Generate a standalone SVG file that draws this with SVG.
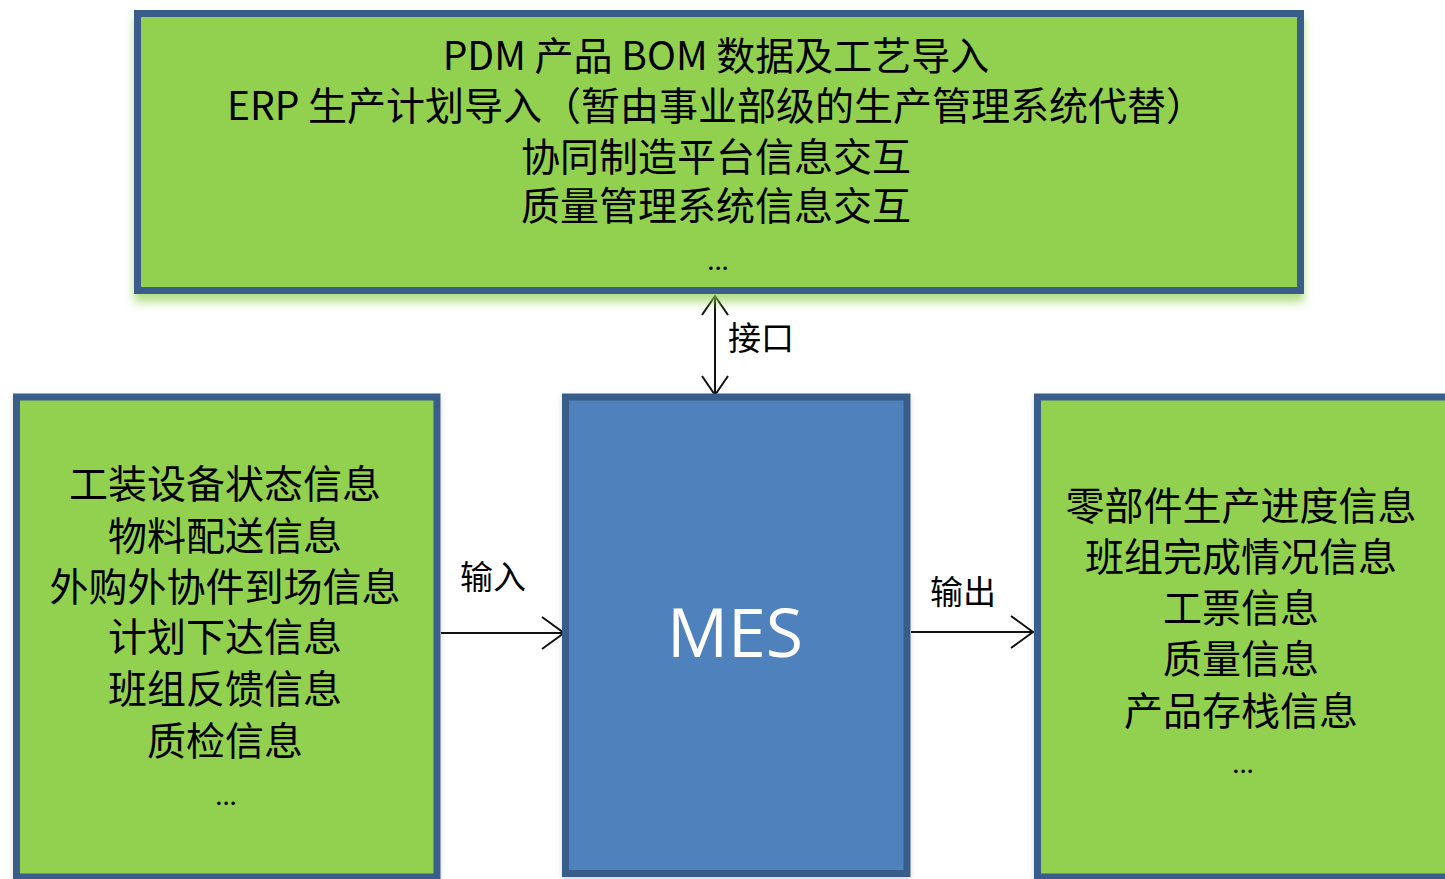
<svg xmlns="http://www.w3.org/2000/svg" width="1445" height="879" viewBox="0 0 1445 879">
<defs>
<style>
.box{fill:#92D050;stroke:#3A5D8C;stroke-width:7}
.mes{fill:#4F81BD;stroke:#385D8A;stroke-width:7}
.t{font-family:"Noto Sans CJK SC","Noto Sans",sans-serif;font-size:39px;fill:#000;text-anchor:middle}
.lbl{font-family:"Noto Sans CJK SC","Noto Sans",sans-serif;font-size:33px;fill:#000}
.mest{font-family:"Open Sans","Noto Sans",sans-serif;font-size:68px;fill:#fff;text-anchor:middle}
.conn{stroke:#111;stroke-width:2;fill:none}
</style>
<filter id="sh" x="-5%" y="-10%" width="110%" height="130%">
<feGaussianBlur in="SourceAlpha" stdDeviation="5"/>
<feOffset dx="0" dy="8" result="b"/>
<feFlood flood-color="#92D050" flood-opacity="0.7"/>
<feComposite in2="b" operator="in"/>
<feMerge><feMergeNode/><feMergeNode in="SourceGraphic"/></feMerge>
</filter>
<filter id="sh2" x="-5%" y="-5%" width="110%" height="110%">
<feGaussianBlur in="SourceAlpha" stdDeviation="3"/>
<feOffset dx="0" dy="3" result="b"/>
<feFlood flood-color="#000" flood-opacity="0.15"/>
<feComposite in2="b" operator="in"/>
<feMerge><feMergeNode/><feMergeNode in="SourceGraphic"/></feMerge>
</filter>
<marker id="ah" viewBox="-2 -2 26 36" markerWidth="26" markerHeight="36" refX="22" refY="16" orient="auto-start-reverse" markerUnits="userSpaceOnUse">
<path d="M0,0 L22,16 L0,32" fill="none" stroke="#111" stroke-width="2"/>
</marker>
<marker id="av" viewBox="-2 -2 24 30" markerWidth="24" markerHeight="30" refX="19" refY="13" orient="auto-start-reverse" markerUnits="userSpaceOnUse">
<path d="M0,0 L19,13 L0,26" fill="none" stroke="#111" stroke-width="2"/>
</marker>
</defs>
<rect width="1445" height="879" fill="#fff"/>

<g id="connectors">
<line class="conn" x1="715" y1="296" x2="715" y2="395" marker-start="url(#av)" marker-end="url(#av)"/>
<line class="conn" x1="441" y1="633" x2="564" y2="633" marker-end="url(#ah)"/>
<line class="conn" x1="911" y1="632" x2="1033" y2="632" marker-end="url(#ah)"/>
<text class="lbl" x="728" y="350">接口</text>
<text class="lbl" x="460" y="589">输入</text>
<text class="lbl" x="930" y="604">输出</text>
</g>

<g id="top-box">
<rect class="box" x="137.5" y="13.5" width="1163" height="277" filter="url(#sh)"/>
<text class="t" x="716" y="70">PDM 产品 BOM 数据及工艺导入</text>
<text class="t" x="716" y="120">ERP 生产计划导入（暂由事业部级的生产管理系统代替）</text>
<text class="t" x="716" y="171">协同制造平台信息交互</text>
<text class="t" x="716" y="220">质量管理系统信息交互</text>
<text class="t" x="718" y="270" style="font-size:26px">...</text>
</g>

<g id="mes-box">
<rect class="mes" x="565.5" y="397" width="341.5" height="476.5" filter="url(#sh2)"/>
<text class="mest" x="735" y="657">MES</text>
</g>

<g id="left-box">
<rect class="box" x="16.5" y="397" width="420.5" height="480" filter="url(#sh2)"/>
<text class="t" x="225" y="498">工装设备状态信息</text>
<text class="t" x="225" y="550">物料配送信息</text>
<text class="t" x="225" y="601">外购外协件到场信息</text>
<text class="t" x="225" y="651">计划下达信息</text>
<text class="t" x="225" y="703">班组反馈信息</text>
<text class="t" x="225" y="755">质检信息</text>
<text class="t" x="226" y="805" style="font-size:26px">...</text>
</g>

<g id="right-box">
<rect class="box" x="1037.5" y="397" width="420" height="480" filter="url(#sh2)"/>
<text class="t" x="1241" y="520">零部件生产进度信息</text>
<text class="t" x="1241" y="571">班组完成情况信息</text>
<text class="t" x="1241" y="622">工票信息</text>
<text class="t" x="1241" y="673">质量信息</text>
<text class="t" x="1241" y="725">产品存栈信息</text>
<text class="t" x="1243" y="773" style="font-size:26px">...</text>
</g>
</svg>
